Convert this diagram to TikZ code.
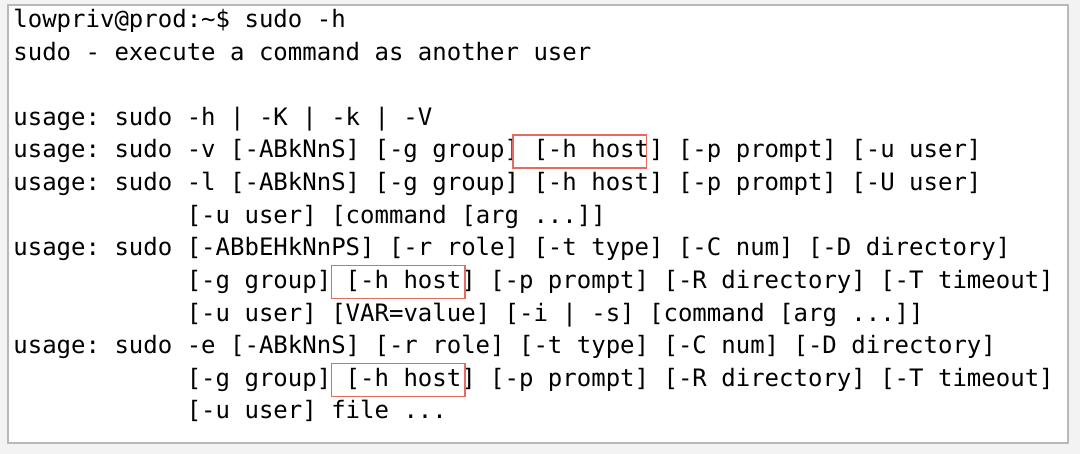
\documentclass[tikz,border=0pt]{standalone}
\usepackage{fontspec}
\setmonofont{DejaVu Sans Mono}
\definecolor{pagegray}{HTML}{F3F3F3}
\definecolor{framegray}{HTML}{B8B8B8}
\definecolor{markred}{HTML}{E46A62}
\newcommand{\ind}{\phantom{usage: sudo }}
\tikzset{
  termline/.style={anchor=base west, inner sep=0pt, font=\ttfamily\fontsize{12}{14}\selectfont},
  hostbox/.style={draw=markred, line width=0.6pt}
}
\begin{document}
\begin{tikzpicture}[x=0.5pt,y=-0.5pt]
  \fill[pagegray] (0,0) rectangle (1080,454);
  \draw[framegray, fill=white, line width=0.6pt] (8,5) rectangle (1068,443);

  \node[termline] (line1) at (13,27.6) {lowpriv@prod:\string~\$ sudo -h};
  \node[termline] (line2) at (13,60.2) {sudo - execute a command as another user};
  \node[termline] (line4) at (13,125.4) {usage: sudo -h | -K | -k | -V};
  \node[termline] (line5) at (13,158.0) {usage: sudo -v [-ABkNnS] [-g group] [-h host] [-p prompt] [-u user]};
  \node[termline] (line6) at (13,190.6) {usage: sudo -l [-ABkNnS] [-g group] [-h host] [-p prompt] [-U user]};
  \node[termline] (line7) at (13,223.2) {\ind[-u user] [command [arg ...]]};
  \node[termline] (line8) at (13,255.8) {usage: sudo [-ABbEHkNnPS] [-r role] [-t type] [-C num] [-D directory]};
  \node[termline] (line9) at (13,288.4) {\ind[-g group] [-h host] [-p prompt] [-R directory] [-T timeout]};
  \node[termline] (line10) at (13,321.0) {\ind[-u user] [VAR=value] [-i | -s] [command [arg ...]]};
  \node[termline] (line11) at (13,353.6) {usage: sudo -e [-ABkNnS] [-r role] [-t type] [-C num] [-D directory]};
  \node[termline] (line12) at (13,386.2) {\ind[-g group] [-h host] [-p prompt] [-R directory] [-T timeout]};
  \node[termline] (line13) at (13,418.8) {\ind[-u user] file ...};

  % marked host options
  \foreach \col/\n in {36/5, 23/9, 23/12} {
    \draw[hostbox] ({13+\col*13.97-3}, {-5+\n*32.6-23}) rectangle ++({9*13.97+8}, 33);
  }
\end{tikzpicture}
\end{document}
